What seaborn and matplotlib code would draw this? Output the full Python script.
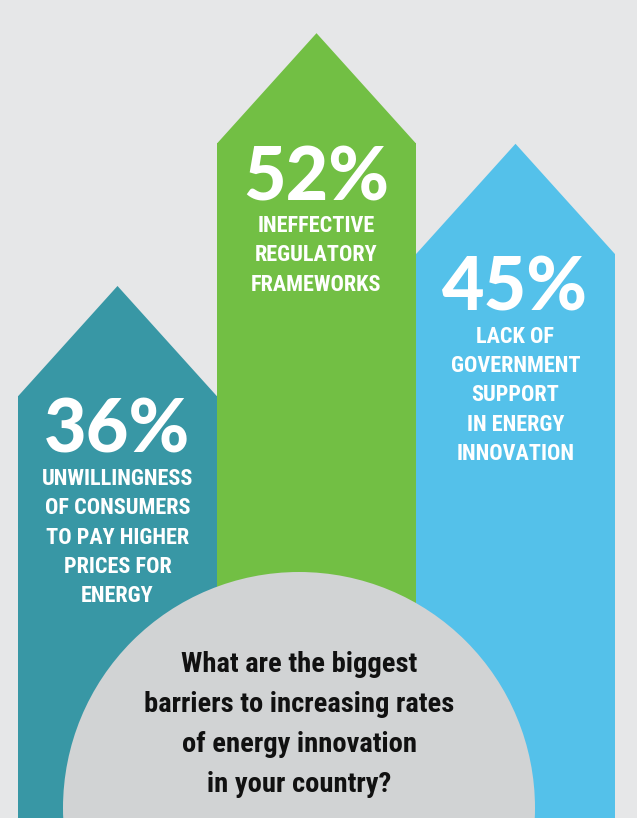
import numpy as np
import pandas as pd
import matplotlib
matplotlib.use("Agg")
import matplotlib.pyplot as plt
import seaborn as sns
from matplotlib.patches import Polygon, Circle
from matplotlib import font_manager as fm

# ---------------- data ----------------
categories = ["Unwillingness of consumers", "Ineffective regulatory frameworks",
              "Lack of government support"]
values = [36, 52, 45]
pct_labels = ["36%", "52%", "45%"]
desc_lines = [
    ["UNWILLINGNESS", "OF CONSUMERS", "TO PAY HIGHER", "PRICES FOR", "ENERGY"],
    ["INEFFECTIVE", "REGULATORY", "FRAMEWORKS"],
    ["LACK OF", "GOVERNMENT", "SUPPORT", "IN ENERGY", "INNOVATION"],
]
question_lines = ["What are the biggest", "barriers to increasing rates",
                  "of energy innovation", "in your country?"]
colors = ["#3897a5", "#72bf44", "#54c1ea"]

# ---------------- fonts ----------------
avail = {f.name for f in fm.fontManager.ttflist}


def _w(x):
    if isinstance(x, (int, float)):
        return x
    return {"black": 900, "heavy": 900, "extra bold": 800, "ultrabold": 800,
            "bold": 700, "semibold": 600, "demibold": 600}.get(str(x).lower(), 400)


def pick(cands, default="DejaVu Sans"):
    for c in cands:
        if c in avail:
            return c
    return default


def pick_heavy(cands):
    # first family that has a face with weight >= 800
    for c in cands:
        ws = [_w(f.weight) for f in fm.fontManager.ttflist if f.name == c]
        if ws and max(ws) >= 800:
            return c, max(ws)
    return pick(["Lato", "DejaVu Sans"]), 700


narrow = pick(["Liberation Sans Narrow", "Roboto Condensed", "Noto Sans Condensed",
               "Open Sans Condensed", "Liberation Sans"])
label_font = pick(["Roboto Condensed", "Liberation Sans Narrow", "Liberation Sans"])
heavy, heavy_w = pick_heavy(["Lato Black", "Lato", "Roboto Black", "Roboto",
                             "Noto Sans Black", "Noto Sans", "Inter", "Open Sans"])

# ---------------- layout ----------------
W, H, DPI = 637, 818, 100
PT = 72 / DPI
BG = "#e6e7e8"
Y_PX_PER_UNIT = 15.8
Y_BOTTOM = 9.29
X_PX_PER_UNIT = 199.0
X_LEFT = -117.5 / X_PX_PER_UNIT
ROOF_PX = 110

sns.set_theme(style="white")
fig = plt.figure(figsize=(W / DPI, H / DPI), dpi=DPI, facecolor=BG)
ax = fig.add_axes([0, 0, 1, 1])
ax.set_facecolor(BG)

df = pd.DataFrame({"category": categories, "value": values})
sns.barplot(data=df, x="category", y="value", hue="category", palette=colors,
            width=1.0, saturation=1, linewidth=0, legend=False, ax=ax)

ax.set_xlim(X_LEFT, X_LEFT + W / X_PX_PER_UNIT)
ax.set_ylim(Y_BOTTOM, Y_BOTTOM + H / Y_PX_PER_UNIT)
ax.axis("off")

roof_h = ROOF_PX / Y_PX_PER_UNIT
for i, (v, c) in enumerate(zip(values, colors)):
    ax.add_patch(Polygon([(i - 0.5, v - 0.02), (i, v + roof_h), (i + 0.5, v - 0.02)],
                         closed=True, facecolor=c, edgecolor="none", zorder=3))

for i, (v, pct, lines) in enumerate(zip(values, pct_labels, desc_lines)):
    ax.annotate(pct, xy=(i, v), xytext=(0, -57 * PT), textcoords="offset points",
                ha="center", va="baseline", color="white", fontsize=53,
                fontfamily=heavy, fontweight=heavy_w, zorder=5)
    for j, line in enumerate(lines):
        ax.annotate(line, xy=(i, v), xytext=(0, -(89 + 29.3 * j) * PT),
                    textcoords="offset points", ha="center", va="baseline",
                    color="white", fontsize=16, fontfamily=label_font,
                    fontweight="bold", zorder=5)

# overlay in pixel coordinates for the circle and question
ax2 = fig.add_axes([0, 0, 1, 1])
ax2.set_xlim(0, W)
ax2.set_ylim(H, 0)
ax2.axis("off")
ax2.patch.set_alpha(0)
ax2.add_patch(Circle((299, 808), 236, facecolor="#d1d3d4", edgecolor="none"))
for j, line in enumerate(question_lines):
    ax2.text(299, 672 + 40 * j, line, ha="center", va="baseline", color="#111111",
             fontsize=20.5, fontfamily=narrow, fontweight="bold")

fig.savefig("out.png", dpi=DPI, facecolor=BG)
